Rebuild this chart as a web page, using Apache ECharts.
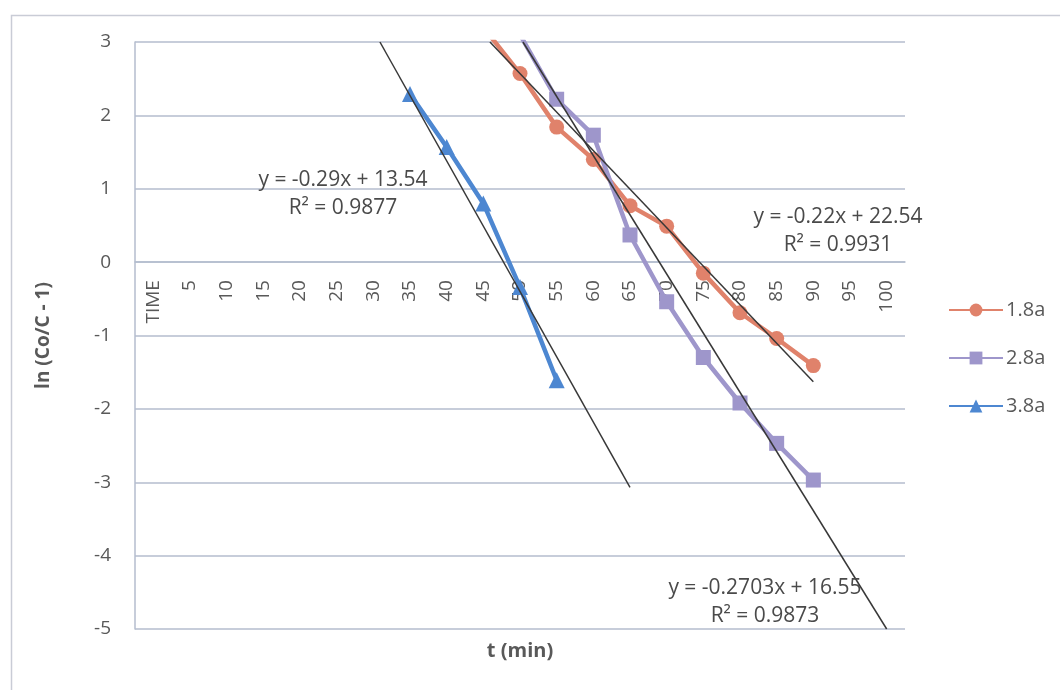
<!DOCTYPE html>
<html>
<head>
<meta charset="utf-8">
<script src="https://cdn.jsdelivr.net/npm/echarts@6/dist/echarts.min.js"></script>
<style>html,body{margin:0;padding:0;background:#fff}#c{width:1060px;height:690px}</style>
</head>
<body>
<div id="c"></div>
<script>
// Categories (x axis)
var categories = ['TIME','5','10','15','20','25','30','35','40','45','50','55','60','65','70','75','80','85','90','95','100'];
// Series values, one per category
var s18 = [null,null,null,null,null,null,null,null,null,3.2,2.57,1.84,1.40,0.77,0.49,-0.15,-0.69,-1.04,-1.41,null,null];
var s28 = [null,null,null,null,null,null,null,null,null,null,3.1,2.22,1.73,0.37,-0.54,-1.30,-1.92,-2.47,-2.97,null,null];
var s38 = [null,null,null,null,null,null,null,2.29,1.57,0.80,-0.34,-1.61,null,null,null,null,null,null,null,null,null];
// Trendlines as drawn: [minutes, value] end points
var trend18 = [[45.9, 3.0], [90, -1.63]];
var trend28 = [[50.4, 3.0], [100, -5.0]];
var trend38 = [[30.9, 3.0], [65, -3.07]];
// Y ticks
var yMin = -5, yMax = 3, yStep = 1;
// Trendline labels
var eq18 = ['y = -0.22x + 22.54', 'R² = 0.9931'];
var eq28 = ['y = -0.2703x + 16.55', 'R² = 0.9873'];
var eq38 = ['y = -0.29x + 13.54', 'R² = 0.9877'];

var FONT = 'Open Sans';
var TXT = '#595959';
var GRID = '#b4bdce';
var cOrange = '#e0826b', cPurple = '#9e96cb', cBlue = '#4d87d1';

var GRID_TOP = 42, GRID_BOTTOM = 61, H = 690;
var plotH = H - GRID_TOP - GRID_BOTTOM;
var zeroOffset = plotH * (0 - yMin) / (yMax - yMin);

var chart = echarts.init(document.getElementById('c'), null, {renderer:'canvas'});
function trendSeries(d){
  return {type:'line', xAxisIndex:1, yAxisIndex:0, data:d, symbol:'none', silent:true,
    lineStyle:{color:'#383838', width:1.5}, z:5, clip:true};
}
function eqText(lines, cx, top){
  return {type:'text', x: cx, y: top, style:{text: lines.join('\n'), align:'center', verticalAlign:'top',
    font: '21px "'+FONT+'"', fill:'#4a4a4a', lineHeight: 28}, z:100, silent:true};
}
chart.setOption({
  animation:false,
  backgroundColor:'#fff',
  textStyle:{fontFamily:FONT},
  grid:{left:135, right:155, top:GRID_TOP, bottom:GRID_BOTTOM, containLabel:false},
  xAxis:[{
    type:'category', data:categories, boundaryGap:true, position:'bottom', offset:-zeroOffset,
    axisLine:{onZero:false, lineStyle:{color:GRID, width:1.5}},
    axisTick:{show:false},
    axisLabel:{rotate:90, color:TXT, fontSize:19, margin:18, interval:0, fontFamily:FONT},
    splitLine:{show:false}
  },{
    type:'value', min:-2.5, max:102.5, position:'bottom',
    axisLine:{show:false, onZero:false}, axisTick:{show:false}, axisLabel:{show:false}, splitLine:{show:false},
    name:'t (min)', nameLocation:'middle', nameGap:12,
    nameTextStyle:{fontWeight:'bold', fontSize:20, color:TXT, fontFamily:FONT}
  }],
  yAxis:{
    type:'value', min:yMin, max:yMax, interval:yStep,
    axisLine:{show:true, onZero:false, lineStyle:{color:GRID, width:1.5}},
    axisTick:{show:false},
    axisLabel:{color:TXT, fontSize:19, margin:24, fontFamily:FONT},
    splitLine:{lineStyle:{color:GRID, width:1.5}},
    name:'ln (Co/C - 1)', nameLocation:'middle', nameGap:82, nameRotate:90,
    nameTextStyle:{fontWeight:'bold', fontSize:19, color:TXT, fontFamily:FONT}
  },
  legend:{
    orient:'vertical', left:943, top:295, itemWidth:54, itemHeight:16, itemGap:28,
    data:['1.8a','2.8a','3.8a'],
    textStyle:{fontSize:20, color:TXT, fontFamily:FONT, padding:[0,0,0,-2]}
  },
  series:[
    {name:'1.8a', type:'line', data:s18, symbol:'circle', symbolSize:15,
      itemStyle:{color:cOrange}, lineStyle:{color:cOrange, width:4.5}, z:3},
    {name:'2.8a', type:'line', data:s28, symbol:'rect', symbolSize:15,
      itemStyle:{color:cPurple}, lineStyle:{color:cPurple, width:4.5}, z:3},
    {name:'3.8a', type:'line', data:s38, symbol:'triangle', symbolSize:16,
      itemStyle:{color:cBlue}, lineStyle:{color:cBlue, width:4.5}, z:3},
    trendSeries(trend18), trendSeries(trend28), trendSeries(trend38)
  ],
  graphic:[
    {type:'rect', left:9, top:13, shape:{x:0,y:0,width:1060,height:700}, style:{fill:'none', stroke:'#c9ccd6', lineWidth:1.5}, silent:true, z:-1},
    eqText(eq38, 343, 166),
    eqText(eq18, 838, 203),
    eqText(eq28, 765, 574)
  ]
});
</script>
</body>
</html>
